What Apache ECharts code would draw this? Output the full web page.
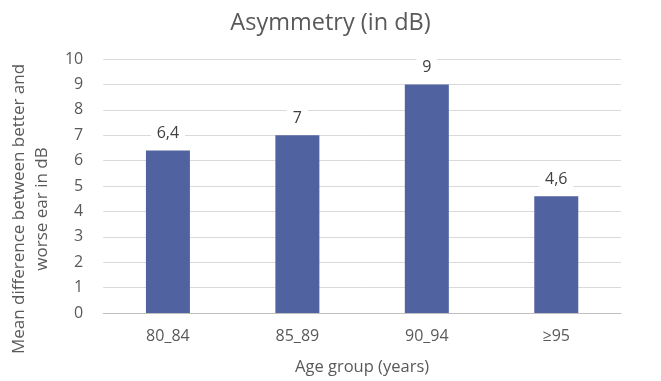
<!DOCTYPE html>
<html><head><meta charset="utf-8">
<script src="https://cdn.jsdelivr.net/npm/echarts@6/dist/echarts.min.js"></script>
<style>html,body{margin:0;padding:0;background:#fff}#c{width:661px;height:381px}</style>
</head><body><div id="c"></div>
<script>
const categories = ['80_84', '85_89', '90_94', '≥95'];
const values = [6.4, 7, 9, 4.6];
const valueLabels = ['6,4', '7', '9', '4,6'];
const titleText = 'Asymmetry (in dB)';
const yName = 'Mean difference between better and\nworse ear in dB';
const xName = 'Age group (years)';
const FONT = "'Open Sans', sans-serif";
const TXT = '#595959';
const chart = echarts.init(document.getElementById('c'), null, {renderer: 'canvas'});
chart.setOption({
  animation: false,
  title: {text: titleText, left: 'center', top: 6, textStyle: {fontFamily: FONT, fontSize: 23.5, fontWeight: 'normal', color: TXT}},
  grid: {left: 98, right: 40, top: 59, bottom: 67},
  xAxis: {
    type: 'category', data: categories,
    name: xName, nameLocation: 'middle', nameGap: 46,
    nameTextStyle: {fontFamily: FONT, fontSize: 16.5, color: TXT},
    axisTick: {show: false},
    axisLine: {lineStyle: {color: '#bfbfbf'}},
    axisLabel: {fontFamily: FONT, fontSize: 16, color: TXT, margin: 15}
  },
  yAxis: {
    type: 'value', min: 0, max: 10, interval: 1,
    name: yName, nameLocation: 'middle', nameGap: 43,
    nameTextStyle: {fontFamily: FONT, fontSize: 17, color: TXT, lineHeight: 23, padding: [0, 46, 0, 0]},
    axisLine: {show: false}, axisTick: {show: false},
    axisLabel: {fontFamily: FONT, fontSize: 16, color: TXT, margin: 20},
    splitLine: {lineStyle: {color: '#d9d9d9'}}
  },
  series: [{
    type: 'bar', data: values, barWidth: 44,
    itemStyle: {color: '#5062A0'},
    label: {show: true, position: 'top', distance: 7, fontFamily: FONT, fontSize: 16, color: '#404040',
      backgroundColor: '#fff', padding: [2, 6],
      formatter: p => valueLabels[p.dataIndex]}
  }]
});
</script></body></html>
